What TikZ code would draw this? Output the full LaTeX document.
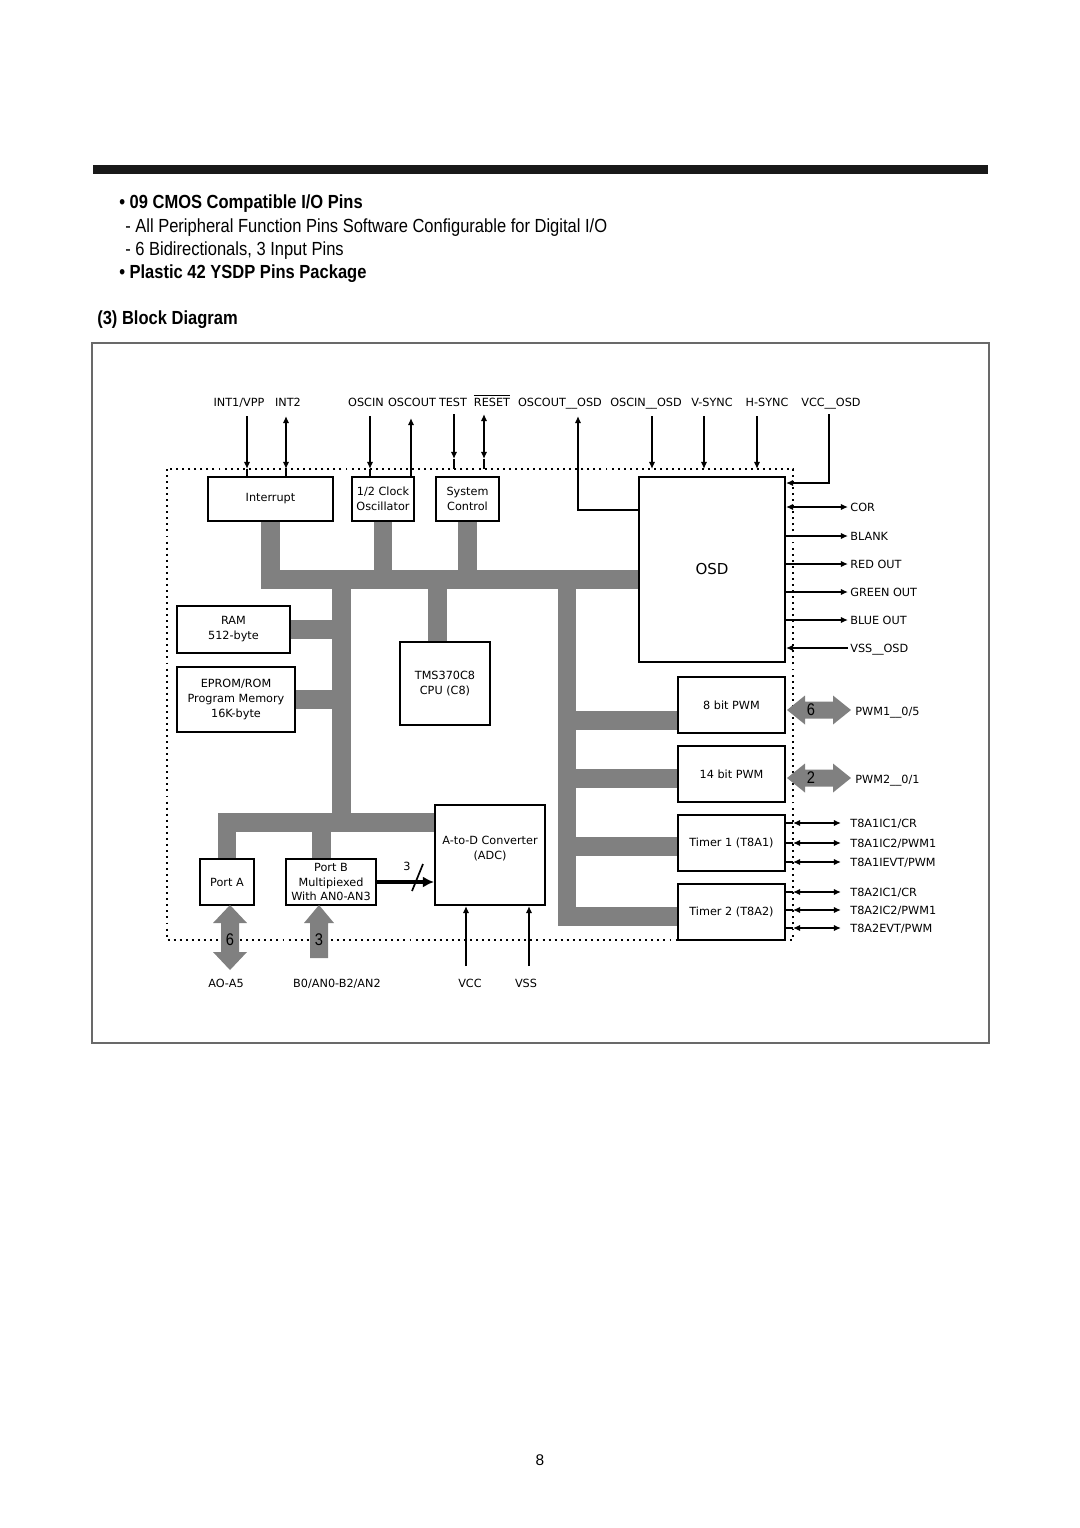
\documentclass[tikz,border=0pt]{standalone}
\usepackage{fontspec}
\setmainfont{Liberation Sans}
\newfontfamily\hdfont{Liberation Sans}[FakeStretch=0.87]
\newfontfamily\dvfont{DejaVu Sans}
\usetikzlibrary{arrows.meta,calc,backgrounds}
\definecolor{busgray}{RGB}{128,128,128}
\definecolor{framegray}{RGB}{105,105,105}
\tikzset{
  blk/.style={draw,line width=1.4pt,fill=white,inner sep=0pt,align=center,
    font=\dvfont\fontsize{8}{10.6}\selectfont},
  sz/.style 2 args={minimum width=#1*0.025cm,minimum height=#2*0.025cm},
  lbl/.style={font=\dvfont\fontsize{8}{10}\selectfont,inner sep=1.5pt,
    text height=1.6ex,text depth=0.3ex},
  wire/.style={line width=1.2pt},
  sig/.style={wire,-{Latex[length=5pt,width=4.5pt]}},
  bisig/.style={wire,{Latex[length=5pt,width=4.5pt]}-{Latex[length=5pt,width=4.5pt]}},
  fat/.style={fill=busgray},
  num/.style={font=\hdfont\fontsize{12}{13}\selectfont,inner sep=0pt},
  chip/.style={line width=1.4pt,dash pattern=on 1.4pt off 2.9pt},
  head/.style={anchor=base west,inner sep=0pt,font=\hdfont\fontsize{13.5}{15}\selectfont},
  headb/.style={head,font=\hdfont\bfseries\fontsize{13.5}{15}\selectfont},
}
\begin{document}
\begin{tikzpicture}[x=0.025cm,y=-0.025cm]
\pgfmathsetmacro{\chipxa}{167}
\pgfmathsetmacro{\chipxb}{793}
\pgfmathsetmacro{\chipya}{469}
\pgfmathsetmacro{\chipyb}{940}
\pgfmathsetmacro{\busw}{13.5}
\tikzset{bus/.style={draw=busgray,line width=\busw pt}}
\useasboundingbox (0,0) rectangle (1080,1528);
% page head
\fill[black!90] (93,165) rectangle (988,174);
\node[headb] (hcmos) at (119,208) {\textbullet\ 09 CMOS Compatible I/O Pins};
\node[head] (hperiph) at (125,232) {- All Peripheral Function Pins Software Configurable for Digital I/O};
\node[head] (hbidir) at (125,255) {- 6 Bidirectionals, 3 Input Pins};
\node[headb] (hplastic) at (119,278) {\textbullet\ Plastic 42 YSDP Pins Package};
\node[headb] (hblock) at (97,324) {(3) Block Diagram};
\draw[framegray,line width=1.3pt] (92,343) rectangle (989,1043);
\coordinate (chipnw) at (\chipxa,\chipya);
\coordinate (chipse) at (\chipxb,\chipyb);
% blocks
\node[blk,sz={125}{44}] (intr) at (270.5,499) {Interrupt};
\node[blk,sz={62}{44}] (osc) at (383,499) {1/2 Clock\\Oscillator};
\node[blk,sz={63}{44}] (sysc) at (467.5,499) {System\\Control};
\node[blk,sz={146}{185},font=\dvfont\fontsize{10.7}{12}\selectfont] (osd) at (712,569.5) {OSD};
\node[blk,sz={113}{47}] (ram) at (233.5,629.5) {RAM\\512-byte};
\node[blk,sz={118}{65}] (eprom) at (236,699.5) {EPROM/ROM\\Program Memory\\16K-byte};
\node[blk,sz={90}{83}] (cpu) at (445,683.5) {TMS370C8\\CPU (C8)};
\node[blk,sz={107}{56}] (pwma) at (731.5,705) {8 bit PWM};
\node[blk,sz={107}{56}] (pwmb) at (731.5,774) {14 bit PWM};
\node[blk,sz={107}{56}] (tmra) at (731.5,843) {Timer 1 (T8A1)};
\node[blk,sz={107}{56}] (tmrb) at (731.5,912) {Timer 2 (T8A2)};
\node[blk,sz={110}{100}] (adc) at (490,855) {A-to-D Converter\\(ADC)\\\mbox{}};
\node[blk,sz={54}{46}] (porta) at (227,882) {Port A};
\node[blk,sz={90}{46}] (portb) at (331,882) {Port B\\Multipiexed\\With AN0-AN3};
% internal buses
\coordinate (busy) at (0,579);
\coordinate (lowy) at (0,822.5);
\coordinate (busl) at (341.5,579);
\coordinate (busr) at (567,579);
\coordinate (cputap) at (437.5,642);
\coordinate (pbtap) at (321.5,859);
\begin{scope}[on background layer]
\draw[bus] (intr.south) |- (osd.west |- busy);
\draw[bus] (osc.south) -- (osc.south |- busy);
\draw[bus] (sysc.south) -- (sysc.south |- busy);
\draw[bus] (cputap) -- (cputap |- busy);
\draw[bus] (busl) -- (busl |- lowy);
\draw[bus] (porta.north) |- (adc.west |- lowy);
\draw[bus] (pbtap) -- (pbtap |- lowy);
\draw[bus] (ram.east) -- (ram.east -| busl);
\draw[bus] (eprom.east) -- (eprom.east -| busl);
\draw[bus] (busr) |- (tmrb.west |- 0,916.5);
\foreach \b/\yy in {pwma/720.5,pwmb/778.5,tmra/846}
  \draw[bus] (busr |- 0,\yy) -- (\b.west |- 0,\yy);
\end{scope}
% chip boundary
\draw[chip] (chipnw) rectangle (chipse);
% top pins
\begin{scope}[every node/.append style={anchor=base}]
\node[lbl] (lint1) at (239,406) {INT1/VPP};
\node[lbl] (lint2) at (288,406) {INT2};
\node[lbl] (loscin) at (366,406) {OSCIN};
\node[lbl] (loscout) at (412,406) {OSCOUT};
\node[lbl] (ltest) at (453,406) {TEST};
\node[lbl] (lreset) at (492,406) {$\overline{\mbox{RESET}}$};
\node[lbl] (loscoutosd) at (560,406) {OSCOUT\_\_OSD};
\node[lbl] (loscinosd) at (646,406) {OSCIN\_\_OSD};
\node[lbl] (lvsync) at (712,406) {V-SYNC};
\node[lbl] (lhsync) at (767,406) {H-SYNC};
\node[lbl] (lvccosd) at (831,406) {VCC\_\_OSD};
\end{scope}
\coordinate (pint1) at (247,416);
\coordinate (pint2) at (286,416);
\coordinate (poscin) at (370,416);
\coordinate (poscout) at (411,418);
\coordinate (ptest) at (454,414);
\coordinate (preset) at (484,414);
\coordinate (poscoutosd) at (578,416);
\coordinate (poscinosd) at (652,416);
\coordinate (pvsync) at (704,416);
\coordinate (phsync) at (757,416);
\coordinate (pvccosd) at (829,414);
\draw[sig] (pint1) -- (pint1 |- chipnw);
\draw[wire] (pint1 |- chipnw) -- (pint1 |- intr.north);
\draw[bisig] (pint2) -- (pint2 |- chipnw);
\draw[wire] (pint2 |- chipnw) -- (pint2 |- intr.north);
\draw[sig] (poscin) -- (poscin |- chipnw);
\draw[wire] (poscin |- chipnw) -- (poscin |- osc.north);
\draw[sig] (poscout |- osc.north) -- (poscout);
\draw[sig] (ptest) -- ($(ptest |- chipnw)+(0,-10)$);
\draw[wire] ($(ptest |- chipnw)+(0,-10)$) -- (ptest |- chipnw);
\draw[bisig] (preset) -- ($(preset |- chipnw)+(0,-10)$);
\draw[wire] ($(preset |- chipnw)+(0,-10)$) -- (preset |- chipnw);
\draw[sig] ($(osd.north west)+(0,34)$) -| (poscoutosd);
\foreach \p in {poscinosd,pvsync,phsync}
  \draw[sig] (\p) -- (\p |- chipnw);
\draw[sig] (pvccosd) |- ($(osd.north east)+(0,7)$);
% OSD outputs
\node[lbl,anchor=west] (lcor) at (848,507) {COR};
\node[lbl,anchor=west] (lblank) at (848,536) {BLANK};
\node[lbl,anchor=west] (lred) at (848,564) {RED OUT};
\node[lbl,anchor=west] (lgreen) at (848,592) {GREEN OUT};
\node[lbl,anchor=west] (lblue) at (848,620) {BLUE OUT};
\node[lbl,anchor=west] (lvssosd) at (848,648) {VSS\_\_OSD};
\draw[bisig] (osd.east |- lcor) -- (lcor.west);
\foreach \s in {lblank,lred,lgreen,lblue}
  \draw[sig] (osd.east |- \s) -- (\s.west);
\draw[sig] (lvssosd.west) -- (osd.east |- lvssosd);
% timer pins
\foreach \nm/\yy/\bx/\txt in {tia/823/tmra/{T8A1IC1/CR},tib/843/tmra/{T8A1IC2/PWM1},tic/862/tmra/{T8A1IEVT/PWM},
    tid/892/tmrb/{T8A2IC1/CR},tie/910/tmrb/{T8A2IC2/PWM1},tif/928/tmrb/{T8A2EVT/PWM}}{
  \node[lbl,anchor=west] (\nm) at (848,\yy) {\txt};
  \draw[wire] (\bx.east |- \nm) -- ($(\bx.east |- \nm)+(7,0)$);
  \draw[bisig,shorten >=5pt] ($(\bx.east |- \nm)+(7,0)$) -- (\nm.west);
}
% PWM pins
\fill[fat,shift={(819,710)}] (-32,0) -- (-14,-14.5) -- (-14,-8.5) -- (14,-8.5) -- (14,-14.5) -- (32,0)
  -- (14,14.5) -- (14,8.5) -- (-14,8.5) -- (-14,14.5) -- cycle;
\fill[fat,shift={(819,778)}] (-32,0) -- (-14,-14.5) -- (-14,-8.5) -- (14,-8.5) -- (14,-14.5) -- (32,0)
  -- (14,14.5) -- (14,8.5) -- (-14,8.5) -- (-14,14.5) -- cycle;
\node[lbl,anchor=west] (lpwma) at (853,711) {PWM1\_\_0/5};
\node[lbl,anchor=west] (lpwmb) at (853,779) {PWM2\_\_0/1};
% port pins
\fill[fat,shift={(230,937.5)}] (0,-32.5) -- (17,-14.5) -- (9,-14.5) -- (9,14.5) -- (17,14.5) -- (0,32.5)
  -- (-17,14.5) -- (-9,14.5) -- (-9,-14.5) -- (-17,-14.5) -- cycle;
\fill[fat,shift={(319,905)}] (0,0) -- (15,18) -- (9,18) -- (9,53) -- (-9,53) -- (-9,18) -- (-15,18) -- cycle;
\node[lbl] (laoa) at (226,983) {AO-A5};
\node[lbl] (lbzero) at (337,983) {B0/AN0-B2/AN2};
\node[lbl] (lvcc) at (470,983) {VCC};
\node[lbl] (lvss) at (526,983) {VSS};
\coordinate (pvcc) at (466,966);
\coordinate (pvss) at (529,966);
\draw[sig] (pvcc) -- (pvcc |- adc.south);
\draw[sig] (pvss) -- (pvss |- adc.south);
% port B to ADC
\draw[line width=2.4pt,-{Latex[length=8pt,width=8pt]}] (portb.east) -- (adc.west |- portb.east);
\draw[wire] (412,891) -- (423,864);
\node[lbl] (nbits) at (407,866) {3};
\node[num] (npwma) at (811,710) {6};
\node[num] (npwmb) at (811,778) {2};
\node[num] (nporta) at (230,940) {6};
\node[num] (nportb) at (319,940) {3};
% page number
\node[font=\fontsize{11}{13}\selectfont] (pgno) at (540,1460) {8};
\end{tikzpicture}
\end{document}
